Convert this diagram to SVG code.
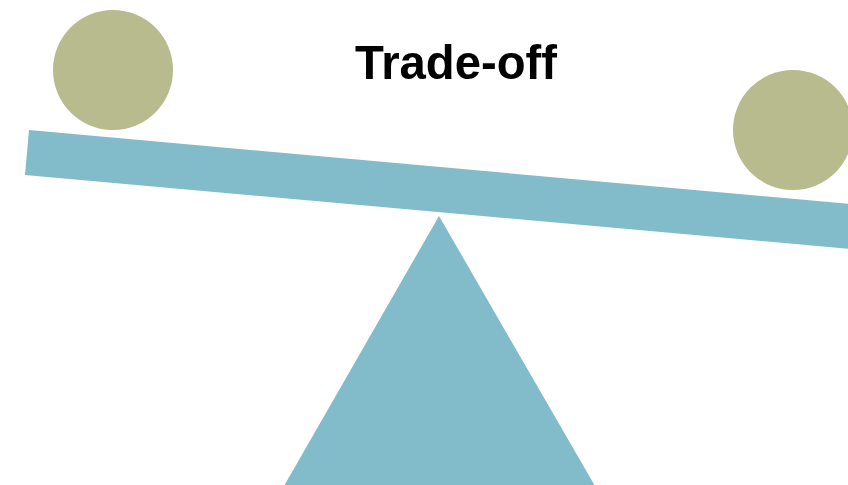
<svg xmlns="http://www.w3.org/2000/svg" width="848" height="485" viewBox="0 0 848 485">
<style>
.blue{fill:#82bbc9}
.ball{fill:#b8bb8d}
.title{font-family:"Liberation Sans",Arial,sans-serif;font-weight:bold;font-size:49px;fill:#000}
</style>
<rect width="848" height="485" fill="#fff"/>
<circle class="ball" cx="113" cy="70" r="60"/>
<circle class="ball" cx="793" cy="130" r="60"/>
<polygon class="blue" points="29,130 850,204 850,249 25,175"/>
<polygon class="blue" points="439,216 595,486 284,486"/>
<text class="title" x="456" y="79" text-anchor="middle" textLength="202" lengthAdjust="spacingAndGlyphs">Trade-off</text>
</svg>
